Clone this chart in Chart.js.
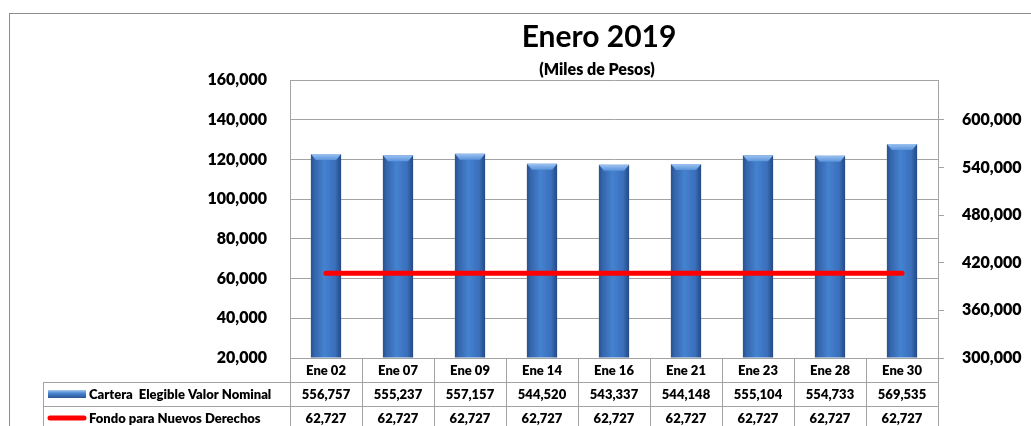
<!DOCTYPE html>
<html>
<head>
<meta charset="utf-8">
<title>Enero 2019</title>
<script src="https://cdn.jsdelivr.net/npm/chart.js@4.4.1/dist/chart.umd.min.js"></script>
<style>
  html, body { margin: 0; padding: 0; background: #fff; }
</style>
</head>
<body>
<canvas id="chart" width="1031" height="426"></canvas>
<script>
// data
var categories = ['Ene 02', 'Ene 07', 'Ene 09', 'Ene 14', 'Ene 16', 'Ene 21', 'Ene 23', 'Ene 28', 'Ene 30'];
var carteraValues = [556757, 555237, 557157, 544520, 543337, 544148, 555104, 554733, 569535];
var fondoValues = [62727, 62727, 62727, 62727, 62727, 62727, 62727, 62727, 62727];
var seriesNames = ['Cartera  Elegible Valor Nominal', 'Fondo para Nuevos Derechos'];
var leftTicks = [20000, 40000, 60000, 80000, 100000, 120000, 140000, 160000];
var rightTicks = [300000, 360000, 420000, 480000, 540000, 600000];
var titleText = 'Enero 2019';
var subtitleText = '(Miles de Pesos)';

var FONT = "Lato, 'Open Sans', sans-serif";
var GRID = '#a3a3a3';
var BAR_PCT = 0.42;

function fmt(v) { return Number(v).toLocaleString('en-US'); }

// horizontal shading of each bar, darker at the edges
function barGradient(ctx) {
  var chart = ctx.chart;
  if (!chart.chartArea || ctx.dataIndex === undefined) return '#3d74c2';
  var xs = chart.scales.x;
  var cx = xs.getPixelForValue(ctx.dataIndex);
  var half = (xs.width / categories.length) * BAR_PCT / 2;
  var g = chart.ctx.createLinearGradient(cx - half, 0, cx + half, 0);
  g.addColorStop(0, '#28508d');
  g.addColorStop(0.12, '#3565ab');
  g.addColorStop(0.45, '#4482d0');
  g.addColorStop(0.8, '#3a6fbb');
  g.addColorStop(1, '#244a84');
  return g;
}

// light bevel on top of the bars
var bevelPlugin = {
  id: 'bevel',
  afterDatasetsDraw: function (chart) {
    var meta = chart.getDatasetMeta(1);
    var c = chart.ctx;
    c.save();
    meta.data.forEach(function (bar) {
      var p = bar.getProps(['x', 'y', 'width'], true);
      var l = p.x - p.width / 2, r = p.x + p.width / 2;
      var g = c.createLinearGradient(0, p.y, 0, p.y + 6);
      g.addColorStop(0, '#9cc2f0');
      g.addColorStop(1, '#5a93dc');
      c.fillStyle = g;
      c.beginPath();
      c.moveTo(l, p.y);
      c.lineTo(r, p.y);
      c.lineTo(r - 5, p.y + 6);
      c.lineTo(l + 5, p.y + 6);
      c.closePath();
      c.fill();
    });
    c.restore();
  }
};

// title, frame and the data table under the plot
var tablePlugin = {
  id: 'dataTable',
  afterDraw: function (chart) {
    var c = chart.ctx;
    var area = chart.chartArea;
    var xs = chart.scales.x;
    var n = categories.length;
    var colW = (area.right - area.left) / n;
    var top = Math.round(area.bottom);
    var rows = [top, top + 24, top + 48, top + 72];
    var legendLeft = 43;
    var i;

    c.save();
    // outer chart frame (only top and left are inside the picture)
    c.strokeStyle = '#8c8c8c';
    c.lineWidth = 1;
    c.strokeRect(9.5, 13.5, chart.width + 50, chart.height + 50);

    // table lines
    c.strokeStyle = GRID;
    c.beginPath();
    for (var r = 1; r < rows.length; r++) {
      c.moveTo(legendLeft, rows[r] + 0.5);
      c.lineTo(area.right, rows[r] + 0.5);
    }
    for (i = 0; i <= n; i++) {
      var lx = Math.round(area.left + i * colW) + 0.5;
      c.moveTo(lx, rows[0]);
      c.lineTo(lx, rows[3]);
    }
    c.moveTo(legendLeft + 0.5, rows[1]);
    c.lineTo(legendLeft + 0.5, rows[3]);
    c.stroke();

    // table text
    c.fillStyle = '#000';
    c.font = '800 13px ' + FONT;
    c.textAlign = 'center';
    c.textBaseline = 'middle';
    for (i = 0; i < n; i++) {
      var cx = xs.getPixelForValue(i);
      c.fillText(categories[i], cx, (rows[0] + rows[1]) / 2 + 1);
      c.fillText(fmt(carteraValues[i]), cx, (rows[1] + rows[2]) / 2 + 1);
      c.fillText(fmt(fondoValues[i]), cx, (rows[2] + rows[3]) / 2 + 1);
    }
    c.textAlign = 'left';
    c.fillText(seriesNames[0], 89, (rows[1] + rows[2]) / 2 + 1);
    c.fillText(seriesNames[1], 89, (rows[2] + rows[3]) / 2 + 1);

    // legend keys
    var ky = (rows[1] + rows[2]) / 2;
    var kg = c.createLinearGradient(0, ky - 4, 0, ky + 4);
    kg.addColorStop(0, '#a9c8ef');
    kg.addColorStop(0.4, '#4a86d2');
    kg.addColorStop(1, '#2a5592');
    c.fillStyle = kg;
    c.fillRect(48, ky - 4, 38, 8);
    c.strokeStyle = '#ff0000';
    c.lineWidth = 5;
    c.lineCap = 'round';
    c.beginPath();
    c.moveTo(50, (rows[2] + rows[3]) / 2);
    c.lineTo(84, (rows[2] + rows[3]) / 2);
    c.stroke();

    // titles
    c.fillStyle = '#000';
    c.textAlign = 'center';
    c.textBaseline = 'alphabetic';
    c.font = 'bold 30px ' + FONT;
    c.fillText(titleText, 599, 47);
    c.font = '800 16px ' + FONT;
    c.fillText(subtitleText, 597, 75);
    c.restore();
  }
};

var tickFont = { family: FONT, size: 16, weight: '800' };

new Chart(document.getElementById('chart'), {
  type: 'bar',
  data: {
    labels: categories,
    datasets: [
      {
        type: 'line',
        label: seriesNames[1],
        data: fondoValues,
        yAxisID: 'yLeft',
        borderColor: '#ff0000',
        borderWidth: 5,
        borderCapStyle: 'round',
        pointRadius: 0,
        fill: false,
        order: 0
      },
      {
        type: 'bar',
        label: seriesNames[0],
        data: carteraValues,
        yAxisID: 'yRight',
        base: rightTicks[0],
        backgroundColor: barGradient,
        borderWidth: 0,
        categoryPercentage: 1,
        barPercentage: BAR_PCT,
        order: 1
      }
    ]
  },
  options: {
    responsive: false,
    animation: false,
    layout: { padding: { top: 80, bottom: 68, left: 0, right: 0 } },
    plugins: {
      legend: { display: false },
      title: { display: false },
      tooltip: { enabled: false }
    },
    scales: {
      x: { display: false, offset: true },
      yLeft: {
        position: 'left',
        min: leftTicks[0],
        max: leftTicks[leftTicks.length - 1],
        afterBuildTicks: function (s) { s.ticks = leftTicks.map(function (v) { return { value: v }; }); },
        afterFit: function (s) { s.width = 290; },
        ticks: { padding: 23, color: '#000', font: tickFont, callback: fmt },
        grid: { color: GRID, drawTicks: false },
        border: { display: true, color: GRID }
      },
      yRight: {
        position: 'right',
        min: 300000,
        max: 650000,
        afterBuildTicks: function (s) { s.ticks = rightTicks.map(function (v) { return { value: v }; }); },
        afterFit: function (s) { s.width = 93; },
        ticks: { padding: 18, color: '#000', font: tickFont, callback: fmt },
        grid: { drawOnChartArea: false, color: GRID, tickLength: 6 },
        border: { display: true, color: GRID }
      }
    }
  },
  plugins: [bevelPlugin, tablePlugin]
});
</script>
</body>
</html>
